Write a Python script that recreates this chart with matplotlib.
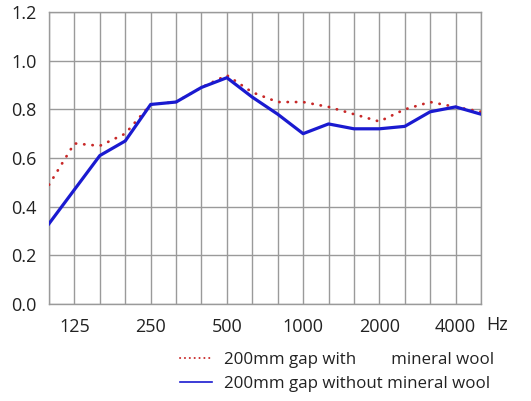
import matplotlib
matplotlib.use("Agg")
import matplotlib.pyplot as plt
from matplotlib.lines import Line2D

plt.rcParams['font.family'] = ['Open Sans', 'DejaVu Sans']

freqs = [100, 125, 160, 200, 250, 315, 400, 500, 630, 800,
         1000, 1250, 1600, 2000, 2500, 3150, 4000, 5000]
with_wool = [0.49, 0.66, 0.65, 0.70, 0.82, 0.83, 0.89, 0.94, 0.87, 0.83,
             0.83, 0.81, 0.78, 0.75, 0.80, 0.83, 0.81, 0.79]
without_wool = [0.33, 0.47, 0.61, 0.67, 0.82, 0.83, 0.89, 0.93, 0.85, 0.78,
                0.70, 0.74, 0.72, 0.72, 0.73, 0.79, 0.81, 0.78]
labelled = [125, 250, 500, 1000, 2000, 4000]
yticks = [0.0, 0.2, 0.4, 0.6, 0.8, 1.0, 1.2]

red = '#c82828'
blue = '#1a1ad0'

fig = plt.figure(figsize=(5.31, 4.01), dpi=100)
ax = fig.add_axes([49/531, 1 - 304/401, 432/531, 292/401])

x = list(range(len(freqs)))
ax.plot(x, with_wool, color=red, lw=2.0, linestyle=(0, (0.1, 2.9)),
        dash_capstyle='round', zorder=3)
ax.plot(x, without_wool, color=blue, lw=2.3, zorder=4)

ax.set_xlim(0, len(freqs) - 1)
ax.set_ylim(0, 1.2)
ax.set_xticks(x)
ax.set_xticklabels([str(f) if f in labelled else '' for f in freqs])
ax.set_yticks(yticks)
ax.set_yticklabels(['%.1f' % v for v in yticks])
ax.grid(True, color='#9a9a9a', lw=1)
ax.tick_params(length=0, labelsize=13, colors='#222222')
ax.tick_params(axis='x', pad=10)
ax.tick_params(axis='y', pad=9)
for s in ax.spines.values():
    s.set_color('#9a9a9a')
    s.set_linewidth(1)

ax.text(1.013, -0.072, 'Hz', transform=ax.transAxes, fontsize=13,
        color='#222222', ha='left', va='center')

# thinner sample lines in the legend, like the original
handles = [Line2D([], [], color=red, lw=1.4, linestyle=(0, (0.1, 2.4)), dash_capstyle='round'),
           Line2D([], [], color=blue, lw=1.2)]
labels = ['200mm gap with        mineral wool', '200mm gap without mineral wool']
fig.legend(handles, labels, loc='upper left', bbox_to_anchor=(180/531, 1 - 352/401),
           frameon=False, fontsize=12.2, handlelength=1.9, handletextpad=0.7,
           labelspacing=0.45, borderaxespad=0, borderpad=0, labelcolor='#222222')

fig.savefig('out.png', dpi=100)
